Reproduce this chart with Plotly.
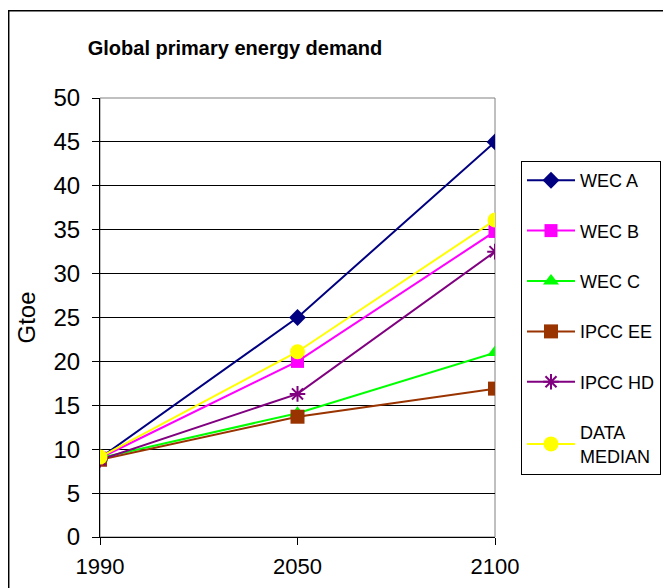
import plotly.graph_objects as go

years = ["1990", "2050", "2100"]
wec_a = [9.0, 25.0, 45.0]
wec_b = [9.0, 20.0, 34.8]
wec_c = [9.0, 14.1, 21.0]
ipcc_ee = [8.8, 13.7, 16.9]
ipcc_hd = [8.8, 16.3, 32.5]
data_median = [9.1, 21.1, 36.1]
y_ticks = list(range(0, 51, 5))

series = [
    ("WEC A", wec_a, "#000080", "diamond", 13, None),
    ("WEC B", wec_b, "#FF00FF", "square", 13, None),
    ("WEC C", wec_c, "#00FF00", "triangle-up", 14, None),
    ("IPCC EE", ipcc_ee, "#993300", "square", 14, None),
    ("IPCC HD", ipcc_hd, "#800080", "asterisk-open", 13, 2),
    ("DATA<br>MEDIAN", data_median, "#FFFF00", "circle", 15, None),
]

fig = go.Figure()
for i, (name, vals, col, sym, size, lw) in enumerate(series):
    marker = dict(symbol=sym, size=size, color=col)
    if lw:
        marker["line"] = dict(color=col, width=lw)
    else:
        marker["line"] = dict(width=0)
    fig.add_trace(go.Scatter(
        x=years, y=vals, name=name, mode="lines+markers",
        line=dict(color=col, width=2), marker=marker,
        legendgroup=f"g{i}",
    ))

OFF = 8  # page body margin
W, H = 671, 588
L = 100 - OFF
T = 98 - OFF
R = W - (495 - OFF)
B = H - (537 - OFF)
pw, ph = W - L - R, H - T - B

def px_x(p):
    return (p - OFF - L) / pw

def px_y(p):
    return (H - B - (p - OFF)) / ph

fig.update_layout(
    width=W, height=H,
    margin=dict(l=L, r=R, t=T, b=B, pad=0),
    paper_bgcolor="white", plot_bgcolor="white",
    font=dict(family="Liberation Sans, Arial, sans-serif", color="black", size=22),
    title=dict(text="<b>Global primary energy demand</b>",
               x=(235 - OFF) / W, xanchor="center",
               y=1 - (48 - OFF) / H, yanchor="middle",
               font=dict(size=20, color="black")),
    showlegend=True,
    legend=dict(x=px_x(521), y=px_y(161), xanchor="left", yanchor="top",
                bordercolor="black", borderwidth=1, bgcolor="white",
                font=dict(size=18, color="black"), tracegroupgap=24,
                itemwidth=48),
    xaxis=dict(type="category", range=[0, 2], showgrid=False,
               showline=True, linecolor="black", linewidth=1,
               ticks="outside", ticklen=7, tickcolor="black",
               tickfont=dict(size=22), ticklabelstandoff=3),
    yaxis=dict(range=[0, 50], tickvals=y_ticks, showgrid=True, gridcolor="black",
               gridwidth=1, showline=True, linecolor="black", linewidth=1,
               ticks="outside", ticklen=7, tickcolor="black", zeroline=False,
               tickfont=dict(size=24), ticklabelstandoff=7,
               title=dict(text="Gtoe", font=dict(size=24), standoff=11)),
    shapes=[
        dict(type="rect", xref="paper", yref="paper", x0=0, x1=1, y0=0, y1=1,
             line=dict(color="#808080", width=1), layer="below"),
        dict(type="rect", xref="paper", yref="paper",
             x0=px_x(8.7), x1=px_x(720), y0=px_y(640), y1=px_y(10.7),
             line=dict(color="black", width=1.5), layer="below"),
    ],
)

fig.write_html("out.html")
